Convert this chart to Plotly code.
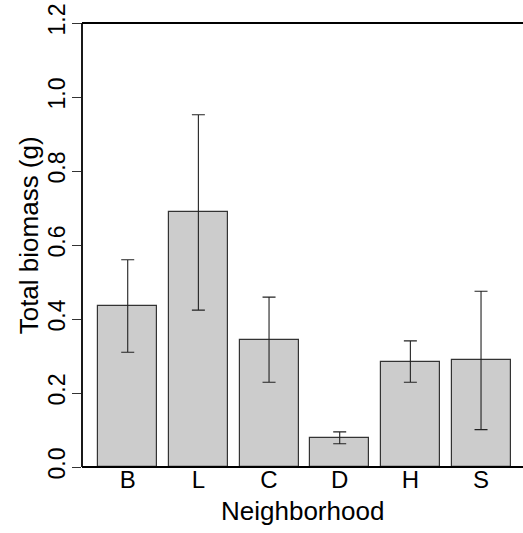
import plotly.graph_objects as go

categories = ["B", "L", "C", "D", "H", "S"]
biomass = [0.435, 0.688, 0.344, 0.079, 0.285, 0.288]
std_err = [0.125, 0.264, 0.115, 0.016, 0.056, 0.187]
y_ticks = [0.0, 0.2, 0.4, 0.6, 0.8, 1.0, 1.2]
y_tick_text = ["0.0", "0.2", "0.4", "0.6", "0.8", "1.0", "1.2"]

FONT = "Liberation Sans, Arial, Helvetica, sans-serif"
xpos = list(range(len(categories)))

fig = go.Figure()
fig.add_trace(go.Bar(
    x=xpos, y=biomass, width=0.835,
    marker=dict(color="#cccccc", line=dict(color="#333333", width=1.2)),
    error_y=dict(type="data", array=std_err, visible=True,
                 color="#222222", thickness=1.1, width=6.5),
    showlegend=False,
))

box_line = dict(color="black", width=1.8)
fig.update_layout(
    width=523, height=533,
    margin=dict(l=82, r=0, t=23, b=66),
    paper_bgcolor="white", plot_bgcolor="white",
    font=dict(family=FONT, color="black"),
    bargap=0,
    xaxis=dict(
        range=[-0.647, 5.594], automargin=False,
        tickmode="array", tickvals=xpos, ticktext=categories,
        tickfont=dict(size=24, family=FONT, color="black"),
        showgrid=False, zeroline=False, showline=False,
        ticks="", ticklabelstandoff=-4,
    ),
    yaxis=dict(
        range=[0, 1.2], automargin=False,
        tickmode="array", tickvals=y_ticks, ticktext=y_tick_text,
        tickangle=-90,
        tickfont=dict(size=23, family=FONT, color="black"),
        showgrid=False, zeroline=False, showline=False,
        ticks="outside", ticklen=9, tickwidth=1.3, tickcolor="#333333",
        ticklabelstandoff=-2,
    ),
    shapes=[
        dict(type="line", xref="paper", yref="paper", x0=0, x1=1, y0=0, y1=0, line=box_line),
        dict(type="line", xref="paper", yref="paper", x0=0, x1=1, y0=1, y1=1, line=box_line),
        dict(type="line", xref="paper", yref="paper", x0=0, x1=0, y0=0, y1=1, line=box_line),
    ],
    annotations=[
        dict(text="Neighborhood", xref="x", yref="paper", x=2.47, y=-0.098,
             xanchor="center", yanchor="middle", showarrow=False,
             font=dict(size=26, family=FONT, color="black")),
        dict(text="Total biomass (g)", xref="paper", yref="paper",
             x=-0.1213, y=0.5207, textangle=-90,
             xanchor="center", yanchor="middle", showarrow=False,
             font=dict(size=26, family=FONT, color="black")),
    ],
)

fig.write_html("out.html", config={"displayModeBar": False},
               post_script="document.body.style.margin='0';")
